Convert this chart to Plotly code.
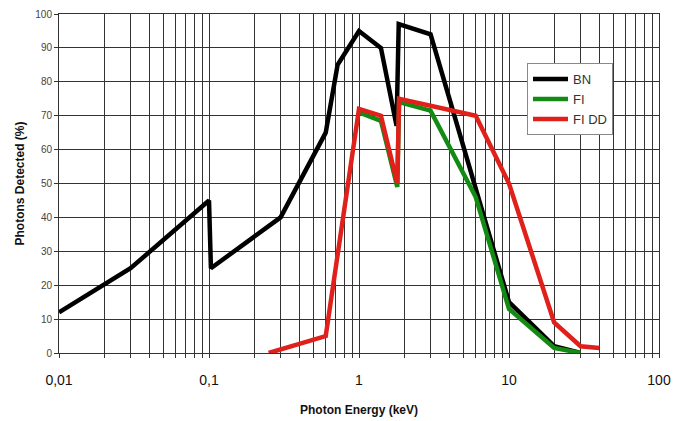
import plotly.graph_objects as go

# Data
bn_x = [0.01, 0.03, 0.1, 0.103, 0.3, 0.6, 0.72, 1.0, 1.4, 1.78, 1.84, 3.0, 10.0, 20.0, 30.0]
bn_y = [12, 25, 45, 25, 40, 65, 85, 95, 90, 67, 97, 94, 15, 2, 0]

fi_x = [1.0, 1.4, 1.8, 1.85, 3.0, 6.0, 10.0, 20.0, 30.0]
fi_y = [71, 68.5, 49, 74, 71.5, 46, 13, 1.5, 0]

fidd_x = [0.25, 0.6, 1.0, 1.4, 1.8, 1.85, 6.0, 10.0, 20.0, 30.0, 40.0]
fidd_y = [0, 5, 72, 70, 50, 75, 70, 50, 9, 2, 1.5]

series_names = ["BN", "FI", "FI DD"]
series_colors = ["#000000", "#138a13", "#e0201b"]

decade_labels = {0.01: "0,01", 0.1: "0,1", 1: "1", 10: "10", 100: "100"}
y_ticks = list(range(0, 101, 10))

# log-axis grid positions (1..9 per decade)
x_tickvals = []
x_ticktext = []
for e in [0.01, 0.1, 1, 10]:
    for m in range(1, 10):
        v = round(e * m, 6)
        x_tickvals.append(v)
        x_ticktext.append(decade_labels.get(v, ""))
x_tickvals.append(100)
x_ticktext.append("100")

fig = go.Figure()
for xs, ys, name, col in zip([bn_x, fi_x, fidd_x], [bn_y, fi_y, fidd_y], series_names, series_colors):
    fig.add_trace(go.Scatter(x=xs, y=ys, mode="lines", name=name,
                             line=dict(color=col, width=4.5)))

fig.update_layout(
    width=678, height=421,
    margin=dict(l=59, r=19, t=14, b=68),
    paper_bgcolor="white", plot_bgcolor="white",
    font=dict(family="Liberation Sans, Arial, sans-serif", color="#222"),
    showlegend=True,
    legend=dict(x=0.78, y=0.855, xanchor="left", yanchor="top",
                bgcolor="white", bordercolor="#888", borderwidth=1,
                font=dict(size=13, color="#333"), tracegroupgap=2,
                itemwidth=35),
)

fig.update_xaxes(
    type="log", range=[-2, 2], automargin=False,
    tickmode="array", tickvals=x_tickvals, ticktext=x_ticktext,
    showgrid=True, gridcolor="#333", gridwidth=1,
    showline=True, linecolor="#333", linewidth=1, mirror=True,
    ticks="outside", ticklen=4, tickcolor="#333",
    ticklabelstandoff=10,
    tickfont=dict(size=14, color="#111"),
    title=dict(text="<b>Photon Energy (keV)</b>", font=dict(size=12, color="#111"), standoff=18),
    zeroline=False,
)
fig.update_yaxes(
    range=[0, 100], tickmode="array", tickvals=y_ticks, automargin=False,
    showgrid=True, gridcolor="#333", gridwidth=1,
    showline=True, linecolor="#333", linewidth=1, mirror=True,
    ticks="outside", ticklen=4, tickcolor="#333",
    tickfont=dict(size=10, color="#444"),
    title=dict(text="<b>Photons Detected (%)</b>", font=dict(size=12, color="#111"), standoff=8),
    zeroline=False,
)

fig.write_html("out.html")
